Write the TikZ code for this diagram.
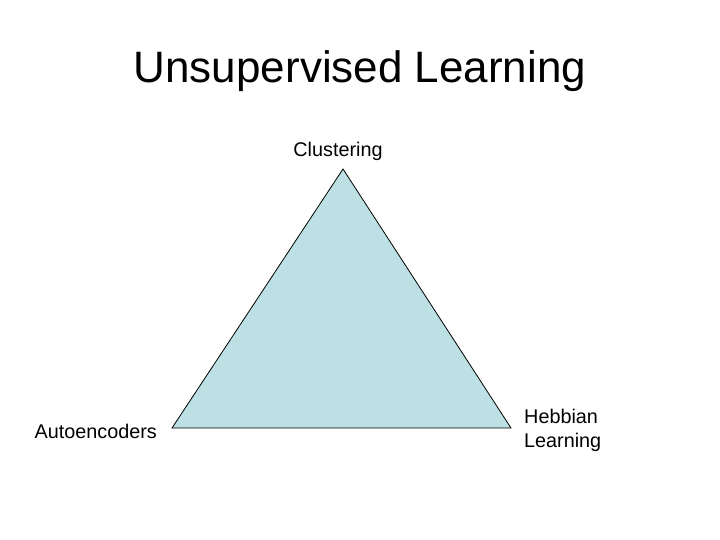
\documentclass[tikz,border=0pt]{standalone}
\usepackage{fontspec}
\setmainfont{Liberation Sans}
\usepackage{xcolor}
\usetikzlibrary{positioning}

\definecolor{triblue}{HTML}{BCE0E4}

\tikzset{
    corner/.style={font=\fontsize{19.8}{24}\selectfont, inner sep=2pt},
    title/.style={font=\fontsize{44}{50}\selectfont},
}

\begin{document}
\begin{tikzpicture}[x=1pt, y=-1pt]
    \useasboundingbox (0,0) rectangle (720,540) ;
    \node[title] (head) at (360,71) {Unsupervised Learning} ;
    % triangle corners
    \coordinate (top) at (343,169) ;
    \coordinate (left) at (172,428) ;
    \coordinate (right) at (511,428) ;
    \filldraw[fill=triblue, draw=black, line width=0.8pt] (top) -- (left) -- (right) -- cycle ;
    \node[corner] (clus) at (338,151) {Clustering} ;
    \node[corner, anchor=east] (auto) at (159,431) {Autoencoders} ;
    \node[corner, anchor=west, align=left] (hebb) at (522,430) {Hebbian\\Learning} ;
\end{tikzpicture}
\end{document}
